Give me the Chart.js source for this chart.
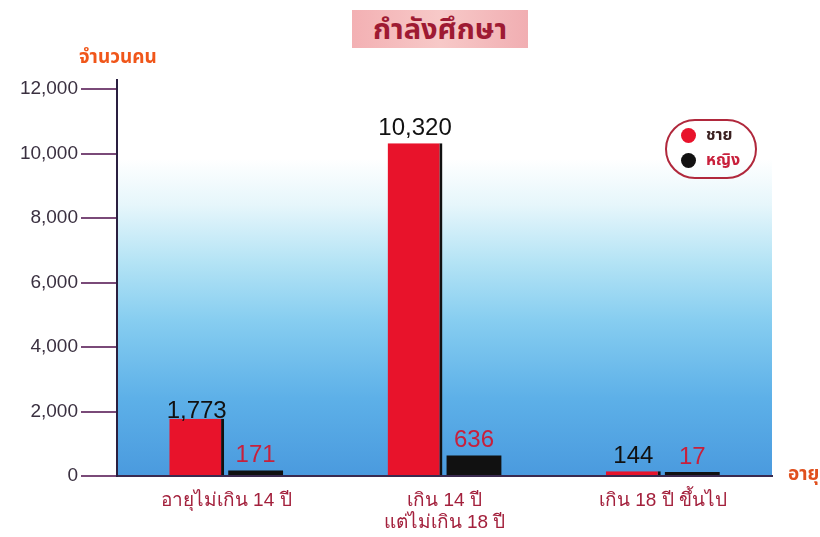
<!DOCTYPE html>
<html>
<head>
<meta charset="utf-8">
<script src="https://cdn.jsdelivr.net/npm/chart.js@4"></script>
<style>
  body { margin: 0; background: #fff; font-family: "Liberation Sans", "Noto Sans Thai", Loma, Garuda, sans-serif; }
  #wrap { position: relative; width: 820px; height: 537px; overflow: hidden; }
  #title { position: absolute; left: 352px; top: 10px; width: 176px; height: 38px; line-height: 38px; text-align: center;
    background: linear-gradient(90deg, #f3b0b3, #f7c9c8 50%, #f1aeb2); color: #9e1a33; font-weight: bold; font-size: 29px; }
  #ytitle { position: absolute; left: 79px; top: 43px; color: #f0561a; font-weight: bold; font-size: 19px; }
  #xtitle { position: absolute; left: 788px; top: 460px; color: #e0501e; font-weight: bold; font-size: 19px; white-space: nowrap; }
  #legend { position: absolute; left: 665px; top: 119px; width: 88px; height: 56px; border: 2px solid #b0283c; border-radius: 30px; }
  .row { position: absolute; left: 14px; height: 22px; line-height: 22px; font-weight: bold; font-size: 16px; }
  .dot { display: inline-block; width: 15px; height: 15px; border-radius: 50%; vertical-align: middle; margin-right: 10px; }
</style>
</head>
<body>
<div id="wrap">
  <canvas id="chart" width="820" height="537"></canvas>
  <div id="title">กำลังศึกษา</div>
  <div id="ytitle">จำนวนคน</div>
  <div id="xtitle">อายุ</div>
  <div id="legend">
    <div class="row" style="top:3px;color:#3a2020"><span class="dot" style="background:#e8132b"></span>ชาย</div>
    <div class="row" style="top:28px;color:#c8203c"><span class="dot" style="background:#111"></span>หญิง</div>
  </div>
</div>
<script>
const categories = ["อายุไม่เกิน 14 ปี", ["เกิน 14 ปี", "แต่ไม่เกิน 18 ปี"], "เกิน 18 ปี ขึ้นไป"];
const male = [1773, 10320, 144];
const female = [171, 636, 17];
const yTicks = [0, 2000, 4000, 6000, 8000, 10000, 12000];

const backdrop = {
  id: "backdrop",
  beforeDraw(chart) {
    const { ctx, chartArea: a } = chart;
    const g = ctx.createLinearGradient(0, a.top, 0, a.bottom);
    g.addColorStop(0, "#ffffff");
    g.addColorStop(0.18, "#ffffff");
    g.addColorStop(0.3, "#e6f6fb");
    g.addColorStop(0.45, "#b3e3f5");
    g.addColorStop(0.6, "#86cdf0");
    g.addColorStop(0.8, "#5db0e8");
    g.addColorStop(1, "#4a9ade");
    ctx.save();
    ctx.fillStyle = g;
    ctx.fillRect(a.left, a.top, a.right - a.left, a.bottom - a.top);
    ctx.restore();
  },
  afterDraw(chart) {
    const { ctx, chartArea: a } = chart;
    // y axis line runs a little past the top tick
    ctx.save();
    ctx.strokeStyle = "#2a1f40";
    ctx.lineWidth = 2;
    ctx.beginPath();
    ctx.moveTo(a.left, a.top);
    ctx.lineTo(a.left, a.top - 10);
    ctx.stroke();
    ctx.restore();
  }
};

const valueLabels = {
  id: "valueLabels",
  afterDatasetsDraw(chart) {
    const { ctx } = chart;
    ctx.save();
    ctx.font = "24px 'Liberation Sans', sans-serif";
    ctx.textAlign = "center";
    ctx.textBaseline = "bottom";
    chart.data.datasets.forEach((ds, i) => {
      ctx.fillStyle = i === 0 ? "#111" : "#c8203c";
      chart.getDatasetMeta(i).data.forEach((bar, j) => {
        ctx.fillText(ds.data[j].toLocaleString("en-US"), bar.x, bar.y + (i === 0 && j === 0 ? 5 : -3));
      });
    });
    ctx.restore();
  }
};

new Chart(document.getElementById("chart"), {
  type: "bar",
  data: {
    labels: categories,
    datasets: [
      { label: "ชาย", data: male, backgroundColor: "#e8132b", borderColor: "#111",
        borderWidth: { top: 0, right: 3, bottom: 0, left: 0 }, minBarLength: 4 },
      { label: "หญิง", data: female, backgroundColor: "#111", minBarLength: 4 }
    ]
  },
  options: {
    responsive: false,
    animation: false,
    categoryPercentage: 0.54,
    barPercentage: 0.93,
    layout: { padding: { top: 89, right: 48, left: 0, bottom: 0 } },
    plugins: { legend: { display: false }, tooltip: { enabled: false } },
    scales: {
      x: {
        grid: { display: false },
        border: { display: true, color: "#3a2a50", width: 2 },
        ticks: { color: "#a3203c", padding: 5, font: { family: "Liberation Sans, sans-serif", size: 19 } },
        afterFit(s) { s.height = 61; }
      },
      y: {
        min: 0, max: 12000,
        afterBuildTicks(s) { s.ticks = yTicks.map(v => ({ value: v })); },
        grid: { drawOnChartArea: false, drawTicks: true, tickLength: 36, color: "#7a4a78", lineWidth: 2 },
        border: { display: true, color: "#2a1f40", width: 2 },
        ticks: { color: "#3a3040", padding: 3, font: { family: "Liberation Sans, sans-serif", size: 19 },
          callback: v => v.toLocaleString("en-US") },
        afterFit(s) { s.width = 117; }
      }
    }
  },
  plugins: [backdrop, valueLabels]
});
</script>
</body>
</html>
